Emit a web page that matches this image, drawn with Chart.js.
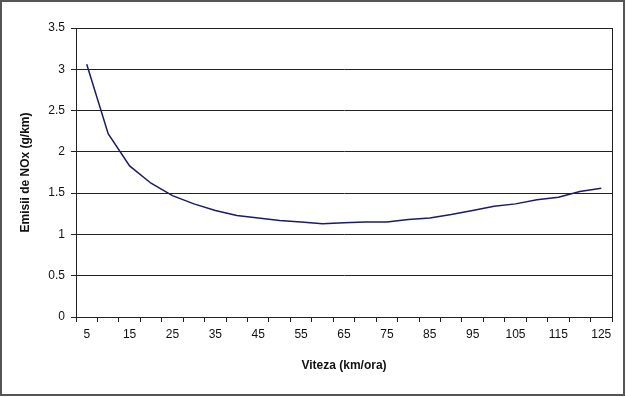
<!DOCTYPE html>
<html>
<head>
<meta charset="utf-8">
<script src="https://cdn.jsdelivr.net/npm/chart.js@4/dist/chart.umd.min.js"></script>
<style>
  html, body { margin: 0; padding: 0; background: #fff; }
  #wrap { width: 626px; height: 397px; }
</style>
</head>
<body>
<div id="wrap"><canvas id="noxChart" width="626" height="397"></canvas></div>
<script>
// Emisii NOx in functie de viteza
const speeds = [5, 10, 15, 20, 25, 30, 35, 40, 45, 50, 55, 60, 65, 70, 75, 80, 85, 90, 95, 100, 105, 110, 115, 120, 125];
const noxValues = [3.06, 2.22, 1.83, 1.62, 1.47, 1.37, 1.29, 1.23, 1.20, 1.17, 1.15, 1.13, 1.14, 1.15, 1.15, 1.18, 1.20, 1.24, 1.29, 1.34, 1.37, 1.42, 1.45, 1.52, 1.56];
const yTicks = [0, 0.5, 1, 1.5, 2, 2.5, 3, 3.5];

const FONT = 'Liberation Sans, Arial, sans-serif';

// rama zonei de grafic si rama exterioara
const frames = {
  id: 'frames',
  afterDraw(chart) {
    const { ctx, chartArea: a } = chart;
    ctx.save();
    ctx.strokeStyle = '#222';
    ctx.lineWidth = 1;
    ctx.strokeRect(Math.round(a.left) + 0.5, Math.round(a.top) + 0.5,
      Math.round(a.right - a.left), Math.round(a.bottom - a.top));
    ctx.strokeStyle = '#555';
    ctx.lineWidth = 2;
    ctx.strokeRect(1, 1, chart.width - 3, chart.height - 3);
    ctx.restore();
  }
};

const ctx = document.getElementById('noxChart').getContext('2d');

new Chart(ctx, {
  type: 'line',
  data: {
    labels: speeds,
    datasets: [
      {
        label: 'NOx',
        data: noxValues,
        borderColor: '#1c1a66',
        borderWidth: 1.5,
        pointRadius: 0,
        tension: 0,
        fill: false,
      },
    ],
  },
  options: {
    responsive: false,
    animation: false,
    layout: {
      padding: { top: 28, right: 14, left: 14, bottom: 20 },
    },
    plugins: {
      legend: { display: false },
      tooltip: { enabled: false },
    },
    scales: {
      x: {
        type: 'category',
        offset: true,
        grid: {
          offset: true,
          drawOnChartArea: false,
          drawTicks: true,
          tickLength: 5,
          color: '#222',
        },
        border: { color: '#222' },
        ticks: {
          autoSkip: false,
          maxRotation: 0,
          padding: 5,
          color: '#111',
          font: { family: FONT, size: 12 },
          callback: function (v, i) { return i % 2 === 0 ? speeds[i] : ''; },
        },
        title: {
          display: true,
          text: 'Viteza (km/ora)',
          color: '#111',
          font: { family: FONT, size: 12, weight: 'bold' },
          padding: { top: 4, bottom: 4 },
        },
        afterFit(scale) { scale.height = 60; },
      },
      y: {
        min: 0,
        max: 3.5,
        afterBuildTicks(scale) { scale.ticks = yTicks.map(v => ({ value: v })); },
        grid: {
          color: '#222',
          tickLength: 5,
        },
        border: { color: '#222' },
        ticks: {
          padding: 6,
          color: '#111',
          font: { family: FONT, size: 12 },
          callback: function (v) { return String(v); },
        },
        title: {
          display: true,
          text: 'Emisii de NOx (g/km)',
          color: '#111',
          font: { family: FONT, size: 12, weight: 'bold' },
          padding: { top: 4, bottom: 4 },
        },
        afterFit(scale) { scale.width = 62; },
      },
    },
  },
  plugins: [frames],
});
</script>
</body>
</html>
